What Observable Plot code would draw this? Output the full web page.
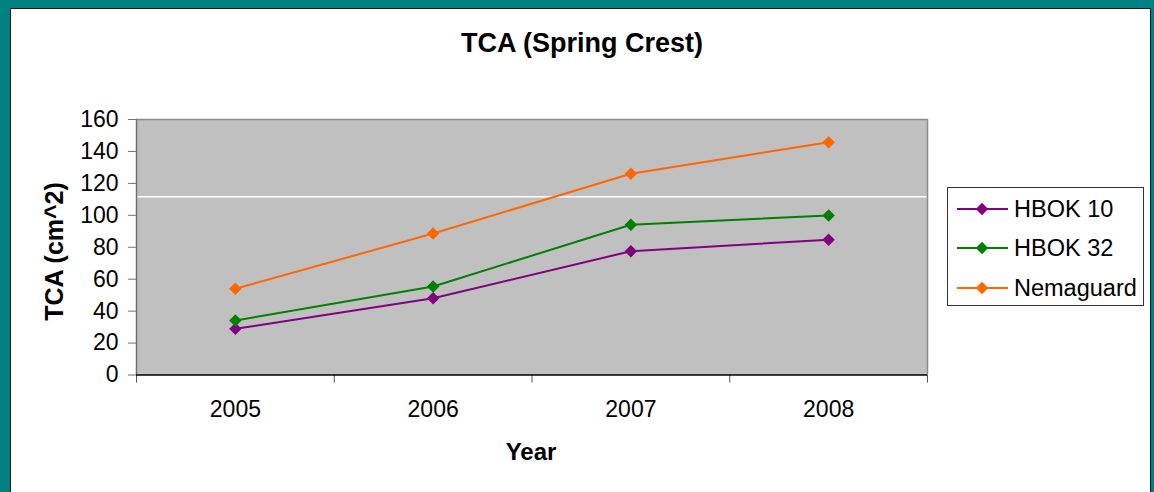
<!DOCTYPE html>
<html>
<head>
<meta charset="utf-8">
<script src="https://cdn.jsdelivr.net/npm/d3@7"></script>
<script src="https://cdn.jsdelivr.net/npm/@observablehq/plot@0.6"></script>
<style>
  html, body { margin: 0; padding: 0; background: #008080; }
  #chart { position: relative; width: 1154px; height: 492px; background: #008080; overflow: hidden;
           font-family: Arial, "Liberation Sans", sans-serif; color: #000; }
  #panel { position: absolute; left: 10px; top: 8px; width: 1139px; height: 500px; background: #fff; border: 1px solid #1a1a1a; }
  #plot { position: absolute; left: 0; top: 0; }
  .lbl { position: absolute; white-space: nowrap; font-weight: bold; line-height: 1; }
  #title { left: 0; width: 1164px; text-align: center; top: 30.4px; font-size: 27px; }
  #xlabel { left: 381px; width: 300px; text-align: center; top: 440.4px; font-size: 24px; }
  #ylabel { left: -96px; width: 300px; text-align: center; top: 238.5px; font-size: 25px; line-height: 25px; transform: rotate(-90deg); }
  #legend { position: absolute; left: 947px; top: 187px; }
</style>
</head>
<body>
<div id="chart">
  <div id="panel"></div>
  <div id="plot"></div>
  <div class="lbl" id="title">TCA (Spring Crest)</div>
  <div class="lbl" id="xlabel">Year</div>
  <div class="lbl" id="ylabel">TCA (cm^2)</div>
  <svg id="legend" width="197" height="119"></svg>
</div>
<script>
// ---- data ----
const years = [2005, 2006, 2007, 2008];
const seriesNames = ["HBOK 10", "HBOK 32", "Nemaguard"];
const hbok10 = [28.9, 48.1, 77.5, 84.7];
const hbok32 = [34.1, 55.4, 94.1, 99.9];
const nemaguard = [54.0, 88.6, 126.0, 145.8];
const yTicks = [0, 20, 40, 60, 80, 100, 120, 140, 160];
const whiteRule = [111.6];
const seriesColors = ["#800080", "#008000", "#FF6600"];

const valuesBySeries = [hbok10, hbok32, nemaguard];
const data = [];
seriesNames.forEach((s, i) => years.forEach((yr, j) => data.push({series: s, year: yr, value: valuesBySeries[i][j]})));
const boundaries = years.map(y => y - 0.5).concat([years[years.length - 1] + 0.5]);
const xDomain = [boundaries[0], boundaries[boundaries.length - 1]];
const markerR = 5.6;

const chart = Plot.plot({
  width: 1154,
  height: 492,
  marginLeft: 136,
  marginRight: 227,
  marginTop: 119,
  marginBottom: 117.5,
  style: {background: "transparent", fontFamily: "Arial, 'Liberation Sans', sans-serif", color: "#000", overflow: "visible"},
  x: {type: "linear", domain: xDomain},
  y: {domain: [0, 160]},
  color: {domain: seriesNames, range: seriesColors},
  marks: [
    Plot.frame({fill: "#c0c0c0", stroke: null}),
    Plot.ruleY(whiteRule, {stroke: "#ffffff", strokeWidth: 1.5}),
    Plot.ruleY([160], {stroke: "#8c8c8c", strokeWidth: 1.5}),
    Plot.ruleX([xDomain[1]], {stroke: "#8c8c8c", strokeWidth: 1.5}),
    Plot.ruleX([xDomain[0]], {stroke: "#707070", strokeWidth: 1.5}),
    Plot.axisY({ticks: yTicks, tickSize: 8, tickPadding: 10, fontSize: 23, label: null, stroke: "#707070", tickFormat: d => String(d)}),
    Plot.axisX({ticks: boundaries, tickSize: 8, tickFormat: () => "", label: null, stroke: "#555"}),
    Plot.axisX({ticks: years, tickSize: 0, tickPadding: 25.5, fontSize: 23, label: null, tickFormat: d => String(d)}),
    Plot.ruleY([0], {stroke: "#000", strokeWidth: 1.5}),
    Plot.line(data, {x: "year", y: "value", stroke: "series", strokeWidth: 2}),
    Plot.dot(data, {x: "year", y: "value", fill: "series", symbol: "diamond2", r: markerR, stroke: null})
  ]
});
document.getElementById("plot").appendChild(chart);

// ---- legend ----
const lg = d3.select("#legend");
lg.append("rect").attr("x", 0.5).attr("y", 0.5).attr("width", 196).attr("height", 118)
  .attr("fill", "#fff").attr("stroke", "#333").attr("stroke-width", 1);
const rowY = [22, 61, 101];
seriesNames.forEach((s, i) => {
  const g = lg.append("g").attr("transform", `translate(0,${rowY[i]})`);
  g.append("line").attr("x1", 10).attr("x2", 61).attr("y1", 0).attr("y2", 0)
    .attr("stroke", seriesColors[i]).attr("stroke-width", 2);
  g.append("path").attr("d", d3.symbol(d3.symbolDiamond2, Math.PI * markerR * markerR)())
    .attr("transform", "translate(35,0)").attr("fill", seriesColors[i]);
  g.append("text").attr("x", 67).attr("y", 7.5).attr("font-size", 23.5)
    .attr("font-family", "Arial, 'Liberation Sans', sans-serif").attr("fill", "#000").text(s);
});
</script>
</body>
</html>
